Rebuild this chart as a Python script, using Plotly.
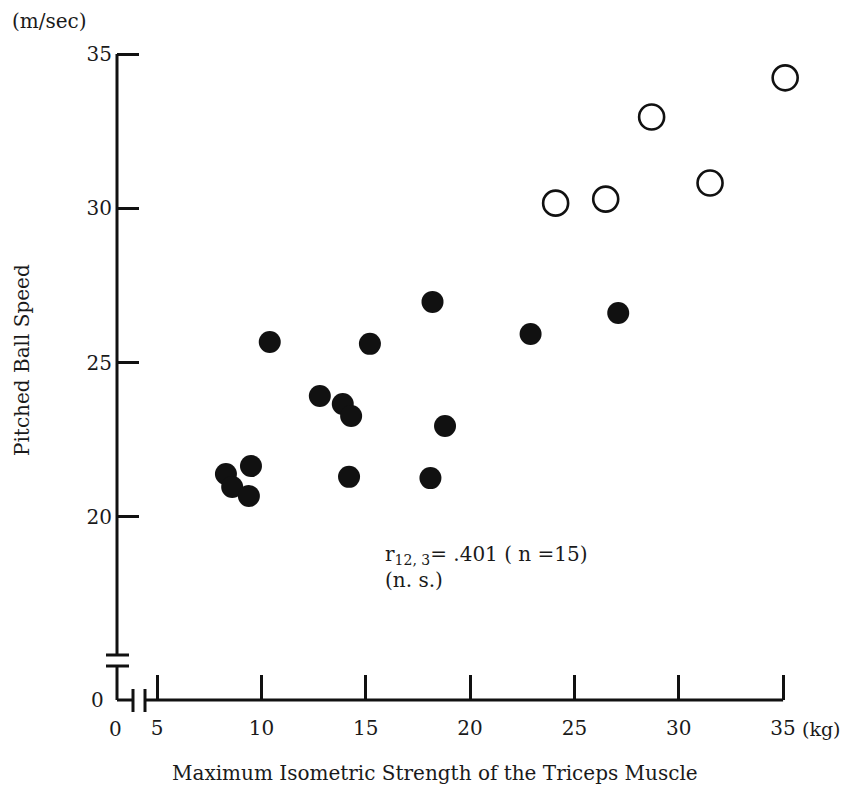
import plotly.graph_objects as go

# ---- data ----
filled_x = [18.2, 10.4, 15.2, 12.8, 13.9, 14.3, 18.8, 14.2, 18.1, 9.5, 8.3, 8.6, 9.4, 22.9, 27.1]
filled_y = [26.97, 25.67, 25.61, 23.92, 23.66, 23.27, 22.95, 21.30, 21.26, 21.65, 21.39, 20.97, 20.68, 25.93, 26.61]
open_x = [35.1, 28.7, 31.5, 26.5, 24.1]
open_y = [34.23, 32.96, 30.82, 30.30, 30.17]
x_ticks = [5, 10, 15, 20, 25, 30, 35]
y_ticks = [20, 25, 30, 35]

FONT = "DejaVu Serif"
OFF = 8                      # page body margin
W, H = 850 - OFF, 790 - OFF
ML, MT = 117 - OFF, 30 - OFF
MR = W - (810 - OFF)
MB = H - (700 - OFF)
PW, PH = W - ML - MR, H - MT - MB
XR = [3.08, 36.29]
YR = [14.07, 35.78]


def fx(px):  # window pixel -> paper x
    return (px - OFF - ML) / PW


def fy(py):  # window pixel -> paper y
    return (H - MB - (py - OFF)) / PH


fig = go.Figure()
fig.add_trace(go.Scatter(x=filled_x, y=filled_y, mode="markers",
                         marker=dict(symbol="circle", size=22, color="#111"),
                         cliponaxis=False, showlegend=False))
fig.add_trace(go.Scatter(x=open_x, y=open_y, mode="markers",
                         marker=dict(symbol="circle-open", size=25, color="#111",
                                     line=dict(width=2.6, color="#111")),
                         cliponaxis=False, showlegend=False))

lw = 3
line = dict(color="#111", width=lw)
top35 = (YR[1] - 35) / (YR[1] - YR[0])
x35 = (35 - XR[0]) / (XR[1] - XR[0])
shapes = [
    dict(type="line", xref="paper", yref="paper", x0=0, x1=0, y0=fy(655), y1=1 - top35, line=line),
    dict(type="line", xref="paper", yref="paper", x0=fx(106), x1=fx(129), y0=fy(655), y1=fy(655), line=line),
    dict(type="line", xref="paper", yref="paper", x0=fx(106), x1=fx(129), y0=fy(666), y1=fy(666), line=line),
    dict(type="line", xref="paper", yref="paper", x0=0, x1=0, y0=fy(666), y1=0, line=line),
    dict(type="line", xref="paper", yref="paper", x0=0, x1=fx(133), y0=0, y1=0, line=line),
    dict(type="line", xref="paper", yref="paper", x0=fx(133), x1=fx(133), y0=fy(689), y1=fy(712), line=line),
    dict(type="line", xref="paper", yref="paper", x0=fx(145), x1=fx(145), y0=fy(689), y1=fy(712), line=line),
    dict(type="line", xref="paper", yref="paper", x0=fx(145), x1=x35, y0=0, y1=0, line=line),
]

tf = dict(family=FONT, size=20, color="#1a1a1a")
annotations = [
    dict(text="(m/sec)", xref="paper", yref="paper", x=fx(10), y=fy(21), xanchor="left",
         yanchor="middle", showarrow=False, font=tf),
    dict(text="0", xref="paper", yref="paper", x=fx(97), y=fy(700), xanchor="center",
         yanchor="middle", showarrow=False, font=tf),
    dict(text="0", xref="paper", yref="paper", x=fx(115), y=fy(729), xanchor="center",
         yanchor="middle", showarrow=False, font=tf),
    dict(text="(kg)", xref="paper", yref="paper", x=fx(800), y=fy(729), xanchor="left",
         yanchor="middle", showarrow=False, font=dict(family=FONT, size=19, color="#1a1a1a")),
    dict(text="Pitched Ball Speed", xref="paper", yref="paper", x=fx(22), y=fy(360),
         xanchor="center", yanchor="middle", textangle=-90, showarrow=False, font=tf),
    dict(text="Maximum Isometric Strength of the Triceps Muscle", xref="paper", yref="paper",
         x=fx(435), y=fy(773), xanchor="center", yanchor="middle", showarrow=False, font=tf),
    dict(text="r<sub>12, 3</sub>= .401 ( n =15)<br>(n. s.)", xref="paper", yref="paper",
         x=fx(383), y=fy(540), xanchor="left", yanchor="top", align="left",
         showarrow=False, font=tf),
]

fig.update_layout(
    width=W, height=H, margin=dict(l=ML, r=MR, t=MT, b=MB),
    plot_bgcolor="white", paper_bgcolor="white",
    shapes=shapes, annotations=annotations,
    xaxis=dict(range=XR, tickmode="array", tickvals=x_ticks, ticks="inside", ticklen=25,
               tickwidth=lw, tickcolor="#111", showgrid=False, zeroline=False, showline=False,
               tickfont=tf, ticklabelstandoff=14, fixedrange=True),
    yaxis=dict(range=YR, tickmode="array", tickvals=y_ticks, ticks="inside", ticklen=22,
               tickwidth=lw, tickcolor="#111", showgrid=False, zeroline=False, showline=False,
               tickfont=tf, ticklabelstandoff=4, fixedrange=True),
)
fig.write_html("out.html")
